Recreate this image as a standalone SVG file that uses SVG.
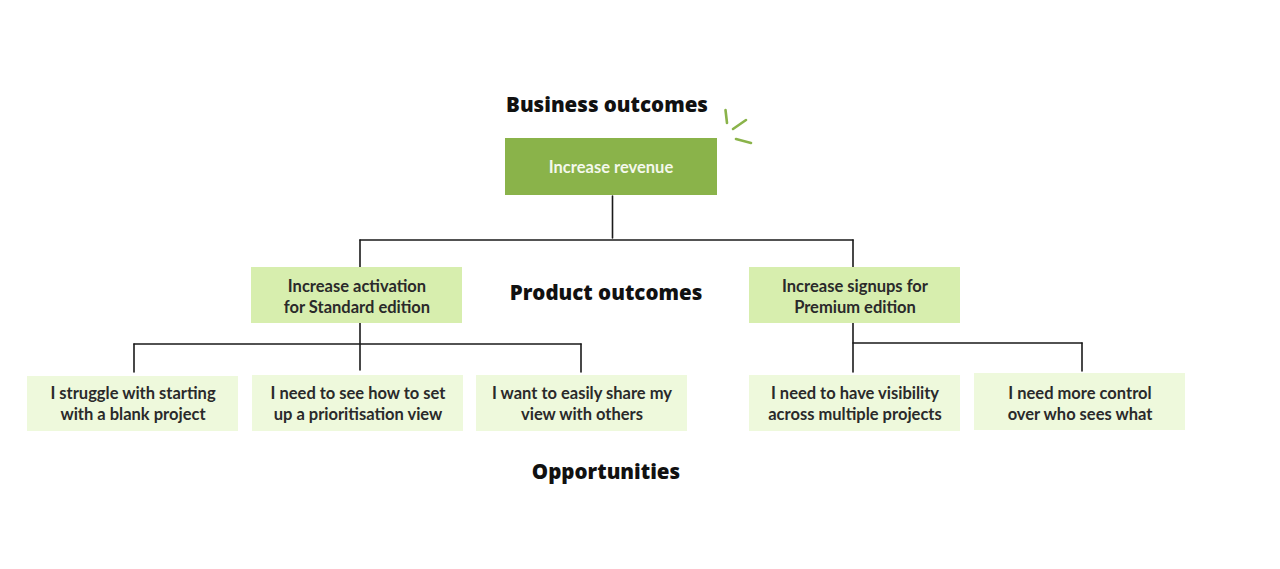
<svg xmlns="http://www.w3.org/2000/svg" width="1280" height="569" viewBox="0 0 1280 569">
<style>
.h{font-family:"Open Sans",Lato,sans-serif;font-weight:800;font-size:20.5px;fill:#111;text-anchor:middle}
.t{font-family:Lato,"Open Sans",sans-serif;font-weight:700;font-size:16.5px;fill:#2a2a2a;text-anchor:middle}
.tw{font-family:Lato,"Open Sans",sans-serif;font-weight:700;font-size:16.5px;fill:#f4f8ec;text-anchor:middle}
.po{fill:#d7eeae}
.op{fill:#eef9dc}
.c{stroke:#1a1a1a;stroke-width:1.6;fill:none;stroke-linecap:round}
.sp{stroke:#8ab34a;stroke-width:2.6;fill:none;stroke-linecap:round}
</style>
<rect width="1280" height="569" fill="#fff"/>
<text class="h" x="607" y="112">Business outcomes</text>
<text class="h" x="606" y="300">Product outcomes</text>
<text class="h" x="606" y="479">Opportunities</text>
<g id="sparkle">
<path class="sp" d="M725.5 110 L727 123"/>
<path class="sp" d="M733 129 L746 120"/>
<path class="sp" d="M736 139 L751 143"/>
</g>
<g id="connectors">
<path class="c" d="M612.5 196 L612.5 238"/>
<path class="c" d="M360 240 L853 240"/>
<path class="c" d="M360 240 L360 267"/>
<path class="c" d="M853 240 L853 267"/>
<path class="c" d="M360 323 L360 370"/>
<path class="c" d="M134 344 L581 344"/>
<path class="c" d="M134 344 L134 372"/>
<path class="c" d="M581 344 L581 372"/>
<path class="c" d="M853 323 L853 372"/>
<path class="c" d="M853 343 L1082 343"/>
<path class="c" d="M1082 343 L1082 371"/>
</g>
<g id="n-revenue">
<rect x="505" y="138" width="212" height="57" fill="#8ab34a"/>
<text class="tw" x="611" y="173">Increase revenue</text>
</g>
<g id="n-activation">
<rect class="po" x="251" y="267" width="211" height="56"/>
<text class="t" x="357" y="292">Increase activation</text>
<text class="t" x="357" y="313">for Standard edition</text>
</g>
<g id="n-signups">
<rect class="po" x="749" y="267" width="211" height="56"/>
<text class="t" x="855" y="292">Increase signups for</text>
<text class="t" x="855" y="313">Premium edition</text>
</g>
<g id="n-blank">
<rect class="op" x="27" y="376" width="211" height="55"/>
<text class="t" x="133" y="399">I struggle with starting</text>
<text class="t" x="133" y="420">with a blank project</text>
</g>
<g id="n-prioritisation">
<rect class="op" x="252" y="375" width="211" height="56"/>
<text class="t" x="358" y="399">I need to see how to set</text>
<text class="t" x="358" y="420">up a prioritisation view</text>
</g>
<g id="n-share">
<rect class="op" x="476" y="375" width="211" height="56"/>
<text class="t" x="582" y="399">I want to easily share my</text>
<text class="t" x="582" y="420">view with others</text>
</g>
<g id="n-visibility">
<rect class="op" x="749" y="375" width="211" height="56"/>
<text class="t" x="855" y="399">I need to have visibility</text>
<text class="t" x="855" y="420">across multiple projects</text>
</g>
<g id="n-control">
<rect class="op" x="974" y="373" width="211" height="57"/>
<text class="t" x="1080" y="399">I need more control</text>
<text class="t" x="1080" y="420">over who sees what</text>
</g>
</svg>
